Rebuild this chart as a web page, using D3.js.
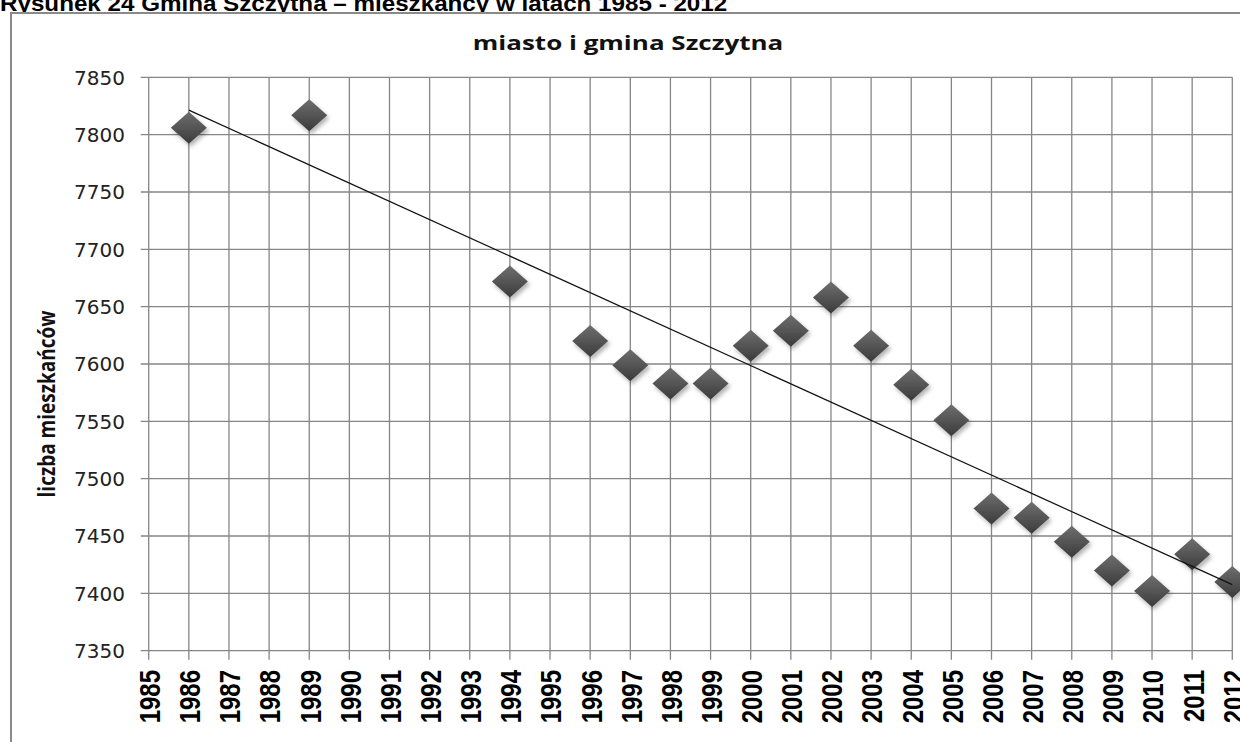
<!DOCTYPE html>
<html>
<head>
<meta charset="utf-8">
<script src="https://cdn.jsdelivr.net/npm/d3@7"></script>
<style>
  body { margin: 0; background: #fff; }
  svg { display: block; }
</style>
</head>
<body>
<script>
let width = 1240;
let height = 742;

// data
let years = [1986, 1989, 1994, 1996, 1997, 1998, 1999, 2000, 2001, 2002, 2003, 2004, 2005, 2006, 2007, 2008, 2009, 2010, 2011, 2012];
let population = [7806, 7817, 7672, 7620, 7599, 7583, 7583, 7616, 7629, 7658, 7616, 7582, 7551, 7474, 7466, 7445, 7420, 7402, 7434, 7410];
let yearTicks = d3.range(1985, 2013);
let popTicks = [7350, 7400, 7450, 7500, 7550, 7600, 7650, 7700, 7750, 7800, 7850];

let heading = 'Rysunek 24 Gmina Szczytna \u2013 mieszka\u0144cy w latach 1985 - 2012';
let chartTitle = 'miasto i gmina Szczytna';
let yTitle = 'liczba mieszka\u0144c\u00f3w';

let plotLeft = 148.7, plotRight = 1232.3, plotTop = 77.3, plotBottom = 650.7;

let svg = d3.select('body').append('svg')
            .attr('width', width)
            .attr('height', height);

let defs = svg.append('defs');
let grad = defs.append('linearGradient')
               .attr('id', 'dia')
               .attr('x1', 0).attr('y1', 0).attr('x2', 0).attr('y2', 1);
grad.append('stop').attr('offset', '0%').attr('stop-color', '#6e6e6e');
grad.append('stop').attr('offset', '50%').attr('stop-color', '#555');
grad.append('stop').attr('offset', '100%').attr('stop-color', '#3a3a3a');

let shadow = defs.append('filter').attr('id', 'shadow')
                 .attr('x', '-30%').attr('y', '-30%').attr('width', '170%').attr('height', '170%');
shadow.append('feDropShadow')
      .attr('dx', 2).attr('dy', 3).attr('stdDeviation', 2)
      .attr('flood-color', '#000').attr('flood-opacity', 0.3);

// heading above the frame (cut at top, as in the scan)
svg.append('text')
   .attr('transform', 'translate(0,11) scale(1.1,1)')
   .attr('font-family', 'Liberation Sans, Arial, sans-serif')
   .attr('font-weight', 'bold')
   .attr('font-size', 22)
   .attr('fill', '#000')
   .text(heading);

// chart frame
svg.append('rect')
   .attr('x', 11)
   .attr('y', 13)
   .attr('width', 1260)
   .attr('height', 760)
   .attr('fill', '#fff')
   .attr('stroke', '#8a8a8a')
   .attr('stroke-width', 2);

let xScale = d3.scaleLinear().domain([1985, 2012]).range([plotLeft, plotRight]);
let yScale = d3.scaleLinear().domain([7350, 7850]).range([plotBottom, plotTop]);

let grid = svg.append('g').attr('stroke', '#868686').attr('stroke-width', 1.3);

grid.selectAll('.hg')
    .data(popTicks)
    .enter()
    .append('line')
    .attr('x1', plotLeft - 8)
    .attr('x2', plotRight)
    .attr('y1', function(d) { return yScale(d); })
    .attr('y2', function(d) { return yScale(d); });

grid.selectAll('.vg')
    .data(yearTicks)
    .enter()
    .append('line')
    .attr('x1', function(d) { return xScale(d); })
    .attr('x2', function(d) { return xScale(d); })
    .attr('y1', plotTop)
    .attr('y2', plotBottom + 9);

// y tick labels
svg.append('g').selectAll('text')
   .data(popTicks)
   .enter()
   .append('text')
   .attr('x', 125)
   .attr('y', function(d) { return yScale(d); })
   .attr('dy', '0.36em')
   .attr('text-anchor', 'end')
   .attr('font-family', 'DejaVu Sans, sans-serif')
   .attr('font-size', 20)
   .attr('fill', '#222')
   .text(function(d) { return d; });

// x tick labels, rotated
svg.append('g').selectAll('text')
   .data(yearTicks)
   .enter()
   .append('text')
   .attr('transform', function(d) { return 'translate(' + (xScale(d) + 1) + ',670) scale(1.2,1) rotate(-90)'; })
   .attr('dy', '0.36em')
   .attr('text-anchor', 'end')
   .attr('font-family', 'Liberation Sans, Arial, sans-serif')
   .attr('font-weight', 'bold')
   .attr('font-size', 24)
   .attr('fill', '#000')
   .text(function(d) { return d; });

// titles
svg.append('text')
   .attr('transform', 'translate(628,50) scale(1.3,1)')
   .attr('text-anchor', 'middle')
   .attr('font-family', 'Open Sans, sans-serif')
   .attr('font-weight', 'bold')
   .attr('font-size', 20)
   .attr('fill', '#111')
   .text(chartTitle);

svg.append('text')
   .attr('transform', 'translate(47,404) scale(1.2,1) rotate(-90)')
   .attr('dy', '0.35em')
   .attr('text-anchor', 'middle')
   .attr('font-family', 'Open Sans, sans-serif')
   .attr('font-weight', 'bold')
   .attr('font-size', 19)
   .attr('fill', '#111')
   .text(yTitle);

// markers
let points = years.map(function(d, i) { return { year: d, value: population[i] }; });

svg.append('g').selectAll('path')
   .data(points)
   .enter()
   .append('path')
   .attr('d', 'M0,-16L18,0L0,16L-18,0Z')
   .attr('transform', function(d) { return 'translate(' + xScale(d.year) + ',' + yScale(d.value) + ')'; })
   .attr('fill', 'url(#dia)')
   .attr('filter', 'url(#shadow)');

// linear trend line (least squares)
let mx = d3.mean(years);
let my = d3.mean(population);
let sxy = d3.sum(points, function(d) { return (d.year - mx) * (d.value - my); });
let sxx = d3.sum(points, function(d) { return (d.year - mx) * (d.year - mx); });
let slope = sxy / sxx;
let trend = [years[0], years[years.length - 1]].map(function(x) { return { year: x, value: my + slope * (x - mx) }; });

svg.append('path')
   .datum(trend)
   .attr('d', d3.line()
                .x(function(d) { return xScale(d.year); })
                .y(function(d) { return yScale(d.value); }))
   .attr('fill', 'none')
   .attr('stroke', '#111')
   .attr('stroke-width', 1.2);
</script>
</body>
</html>
